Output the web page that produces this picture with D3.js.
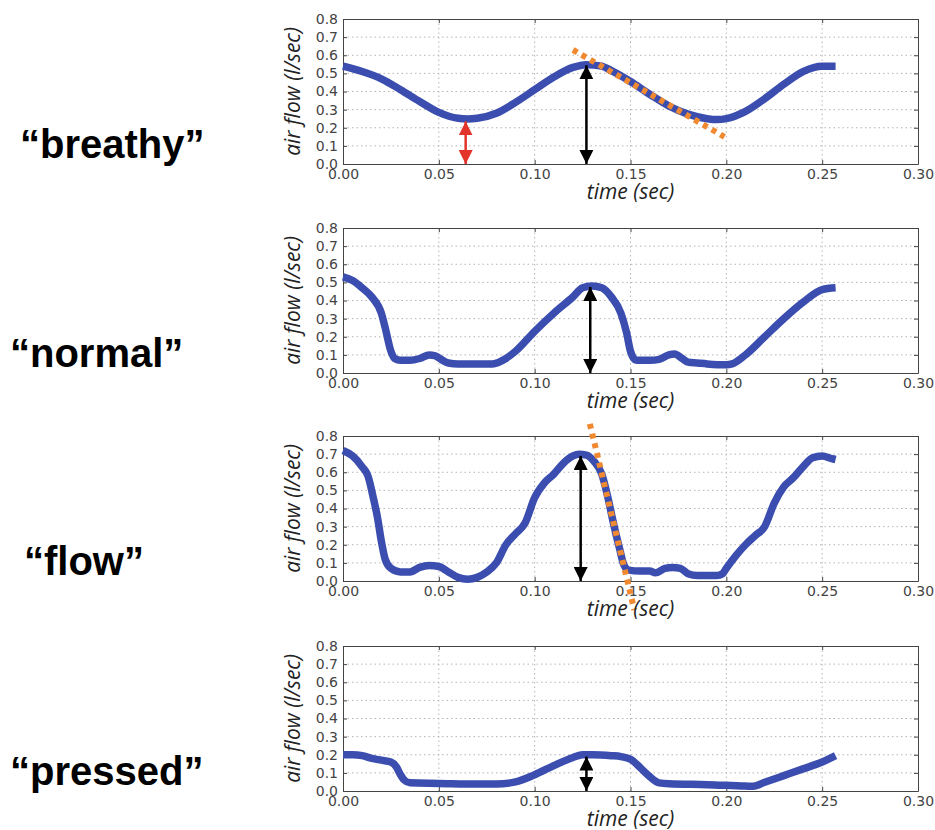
<!DOCTYPE html>
<html>
<head>
<meta charset="utf-8">
<script src="https://cdn.jsdelivr.net/npm/d3@7"></script>
<style>
body { margin: 0; background: #fff; }
.grid line { stroke: #b5b5b5; stroke-dasharray: 1.5,3; }
.axis path, .axis line { stroke: #444; }
.axis text { font-family: "DejaVu Sans", sans-serif; font-size: 14px; fill: #444; }
.label { font-family: "Open Sans", sans-serif; font-style: italic; font-size: 21px; fill: #222; }
.voice { font-family: "Liberation Sans", Arial, sans-serif; font-weight: bold; font-size: 40px; fill: #000; }
.flow { fill: none; stroke: #3b4eaf; stroke-width: 7.5; stroke-linejoin: round; stroke-linecap: butt; }
.fit { stroke: #f0892f; stroke-width: 6; stroke-dasharray: 5,5; }
</style>
</head>
<body>
<script>
//Global variables
const width = 935;
const height = 830;
const plotLeft = 343;
const plotRight = 918;
const plotHeight = 145;
const panelTops = [19, 228, 436, 646];

//Tick values
const xTicks = [0, 0.05, 0.10, 0.15, 0.20, 0.25, 0.30];
const yTicks = [0, 0.1, 0.2, 0.3, 0.4, 0.5, 0.6, 0.7, 0.8];

//Voice labels
const voices = ["“breathy”", "“normal”", "“flow”", "“pressed”"];
const voiceX = [20, 10, 24, 10];

//Air flow series (time in sec, flow in l/sec)
const breathyT = [0, .01, .02, .03, .04, .05, .06, .065, .07, .08, .09, .10, .11, .12, .127, .135, .14, .15, .16, .17, .18, .19, .195, .20, .21, .22, .23, .24, .25, .257];
const breathyV = [.54, .51, .47, .41, .345, .285, .252, .248, .252, .28, .34, .41, .48, .533, .548, .54, .515, .455, .385, .32, .275, .25, .245, .25, .29, .36, .44, .51, .54, .54];

const normalT = [0, .005, .01, .015, .02, .022, .025, .027, .03, .035, .04, .045, .048, .052, .055, .06, .07, .078, .085, .09, .10, .11, .12, .125, .13, .135, .14, .145, .148, .15, .153, .16, .165, .17, .173, .177, .18, .185, .19, .20, .203, .21, .22, .23, .24, .25, .257];
const normalV = [.53, .51, .47, .42, .33, .25, .12, .08, .07, .07, .08, .10, .095, .07, .055, .05, .05, .05, .08, .12, .23, .33, .42, .47, .48, .47, .42, .33, .22, .12, .07, .07, .075, .10, .105, .08, .06, .055, .05, .045, .05, .10, .20, .30, .39, .46, .47];

const flowT = [0, .005, .01, .013, .016, .018, .02, .022, .025, .03, .035, .04, .045, .05, .055, .06, .065, .07, .075, .08, .085, .09, .095, .10, .105, .11, .115, .12, .123, .127, .131, .135, .138, .1415, .1445, .1465, .149, .155, .16, .163, .168, .172, .176, .18, .185, .19, .195, .198, .20, .205, .21, .215, .22, .225, .23, .235, .24, .245, .25, .255, .257];
const flowV = [.72, .69, .63, .58, .45, .35, .22, .12, .07, .05, .05, .075, .085, .08, .05, .02, .01, .02, .05, .10, .20, .26, .32, .46, .54, .59, .65, .69, .70, .695, .66, .59, .47, .30, .17, .09, .06, .055, .055, .045, .07, .075, .07, .04, .03, .03, .03, .04, .07, .14, .20, .25, .30, .43, .52, .57, .63, .68, .69, .675, .67];

const pressedT = [0, .005, .01, .015, .02, .025, .028, .03, .032, .035, .05, .07, .08, .09, .10, .11, .12, .125, .13, .14, .145, .15, .155, .16, .165, .17, .19, .21, .214, .22, .23, .24, .25, .257];
const pressedV = [.20, .20, .195, .18, .17, .16, .13, .09, .06, .045, .042, .038, .038, .05, .09, .14, .185, .20, .20, .195, .19, .175, .13, .08, .045, .04, .035, .027, .026, .048, .085, .122, .16, .195];

const seriesT = [breathyT, normalT, flowT, pressedT];
const seriesV = [breathyV, normalV, flowV, pressedV];

//Peak arrows (time, top, bottom)
const arrowT = [0.127, 0.129, 0.124, 0.127];
const arrowTop = [0.545, 0.475, 0.69, 0.19];

//Dotted slope fits [t0, v0, t1, v1], null if none
const fits = [[0.120, 0.63, 0.199, 0.15], null, [0.1288, 0.867, 0.152, -0.16], null];

//Red arrow on breathy minimum
const redArrow = [0.064, 0.235, 0.0];

//Scales
const xScale = d3.scaleLinear()
    .domain([0, 0.30])
    .range([plotLeft, plotRight]);

//SVG element
const svg = d3.select("body")
    .append("svg")
    .attr("width", width)
    .attr("height", height);

//Arrowhead markers
const defs = svg.append("defs");
[["headBlack", "#000"], ["headRed", "#e3342b"]].forEach(([id, color]) => {
    defs.append("marker")
        .attr("id", id)
        .attr("viewBox", "0 0 10 10")
        .attr("refX", 10)
        .attr("refY", 5)
        .attr("markerWidth", 14)
        .attr("markerHeight", 14)
        .attr("markerUnits", "userSpaceOnUse")
        .attr("orient", "auto-start-reverse")
        .append("path")
        .attr("d", "M0,0 L10,5 L0,10 Z")
        .attr("fill", color);
});

panelTops.forEach((top, i) => {

    const yScale = d3.scaleLinear()
        .domain([0, 0.8])
        .range([top + plotHeight, top]);

    const g = svg.append("g");

    //Grid
    g.append("g")
        .attr("class", "grid")
        .selectAll("line.h")
        .data(yTicks.slice(1, -1))
        .join("line")
        .attr("x1", plotLeft)
        .attr("x2", plotRight)
        .attr("y1", d => yScale(d))
        .attr("y2", d => yScale(d));

    g.append("g")
        .attr("class", "grid")
        .selectAll("line.v")
        .data(xTicks.slice(1, -1))
        .join("line")
        .attr("x1", d => xScale(d))
        .attr("x2", d => xScale(d))
        .attr("y1", top)
        .attr("y2", top + plotHeight);

    //Axes (ticks point inward)
    g.append("g")
        .attr("class", "axis")
        .attr("transform", "translate(0," + (top + plotHeight) + ")")
        .call(d3.axisBottom(xScale).tickValues(xTicks).tickFormat(d3.format(".2f")).tickSizeInner(-4).tickSizeOuter(0).tickPadding(5));

    g.append("g")
        .attr("class", "axis")
        .attr("transform", "translate(" + plotLeft + ",0)")
        .call(d3.axisLeft(yScale).tickValues(yTicks).tickFormat(d3.format(".1f")).tickSizeInner(-4).tickSizeOuter(0).tickPadding(5));

    g.append("g")
        .attr("class", "axis")
        .attr("transform", "translate(0," + top + ")")
        .call(d3.axisTop(xScale).tickValues(xTicks).tickFormat("").tickSizeInner(-4).tickSizeOuter(0));

    g.append("g")
        .attr("class", "axis")
        .attr("transform", "translate(" + plotRight + ",0)")
        .call(d3.axisRight(yScale).tickValues(yTicks).tickFormat("").tickSizeInner(-4).tickSizeOuter(0));

    //Air flow line
    const line = d3.line()
        .x((d, j) => xScale(seriesT[i][j]))
        .y(d => yScale(d))
        .curve(d3.curveMonotoneX);

    g.append("path")
        .datum(seriesV[i])
        .attr("class", "flow")
        .attr("d", line);

    //Dotted slope fit
    if (fits[i]) {
        const f = fits[i];
        g.append("line")
            .attr("class", "fit")
            .attr("x1", xScale(f[0]))
            .attr("y1", yScale(f[1]))
            .attr("x2", xScale(f[2]))
            .attr("y2", yScale(f[3]));
    }

    //Peak double arrow
    g.append("line")
        .attr("x1", xScale(arrowT[i]))
        .attr("x2", xScale(arrowT[i]))
        .attr("y1", yScale(arrowTop[i]))
        .attr("y2", yScale(0))
        .attr("stroke", "#000")
        .attr("stroke-width", 2.5)
        .attr("marker-start", "url(#headBlack)")
        .attr("marker-end", "url(#headBlack)");

    //Red arrow (breathy only)
    if (i === 0) {
        g.append("line")
            .attr("x1", xScale(redArrow[0]))
            .attr("x2", xScale(redArrow[0]))
            .attr("y1", yScale(redArrow[1]))
            .attr("y2", yScale(redArrow[2]))
            .attr("stroke", "#e3342b")
            .attr("stroke-width", 2.5)
            .attr("marker-start", "url(#headRed)")
            .attr("marker-end", "url(#headRed)");
    }

    //Axis labels
    g.append("text")
        .attr("class", "label")
        .attr("x", (plotLeft + plotRight) / 2)
        .attr("y", top + plotHeight + 35)
        .attr("text-anchor", "middle")
        .text("time (sec)");

    g.append("text")
        .attr("class", "label")
        .attr("transform", "translate(" + 300 + "," + (top + plotHeight / 2) + ") rotate(-90)")
        .attr("text-anchor", "middle")
        .text("air flow (l/sec)");

    //Voice label
    svg.append("text")
        .attr("class", "voice")
        .attr("x", voiceX[i])
        .attr("y", top + plotHeight - 6)
        .text(voices[i]);
});
</script>
</body>
</html>
